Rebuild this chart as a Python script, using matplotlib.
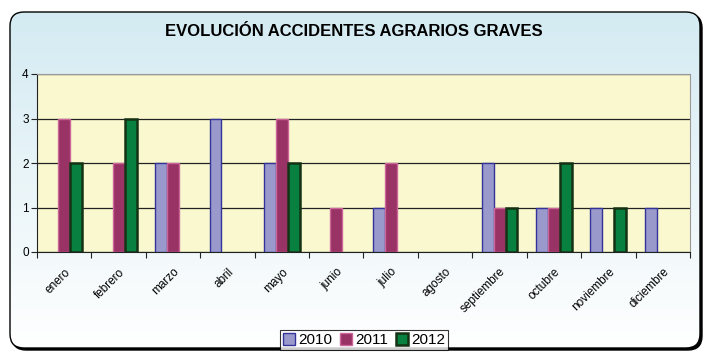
import numpy as np
import matplotlib
matplotlib.use("Agg")
import matplotlib.pyplot as plt
from matplotlib.patches import FancyBboxPatch

plt.rcParams['font.family'] = ['Liberation Sans', 'DejaVu Sans']

meses = ['enero', 'febrero', 'marzo', 'abril', 'mayo', 'junio', 'julio',
         'agosto', 'septiembre', 'octubre', 'noviembre', 'diciembre']
v2010 = [0, 0, 2, 3, 2, 0, 1, 0, 2, 1, 1, 1]
v2011 = [3, 2, 2, 0, 3, 1, 2, 0, 1, 1, 0, 0]
v2012 = [2, 3, 0, 0, 2, 0, 0, 0, 1, 2, 1, 0]
years = ['2010', '2011', '2012']

fills = ['#9999cc', '#993366', '#088040']
edges = ['#333399', '#cc6699', '#143214']
lws = [1.0, 1.0, 1.8]

W, H = 710, 352
fig = plt.figure(figsize=(W / 100, H / 100), dpi=100)

# background panel with rounded corners and gradient
bg = fig.add_axes([0, 0, 1, 1])
bg.set_xlim(0, W)
bg.set_ylim(H, 0)
bg.axis('off')
shadow = FancyBboxPatch((12, 14), 690, 336, boxstyle="round,pad=0,rounding_size=14",
                        fc='black', ec='black', lw=1)
bg.add_patch(shadow)
panel = FancyBboxPatch((10, 12), 690, 336, boxstyle="round,pad=0,rounding_size=14",
                       fc='none', ec='black', lw=1)
grad = np.linspace(0, 1, 256).reshape(-1, 1)
top = np.array([0.83, 0.92, 0.95])
bot = np.array([1.0, 1.0, 1.0])
img = top + (bot - top) * grad[..., None]
im = bg.imshow(img, extent=(10, 700, 348, 12), aspect='auto', zorder=1)
bg.add_patch(panel)
panel.set_zorder(2)
im.set_clip_path(panel)

ax = fig.add_axes([37 / W, 1 - 252 / H, (690 - 37) / W, (252 - 74) / H])
ax.set_facecolor('#faf8cf')
x = np.arange(len(meses))
bw = 0.22
for i, (vals, y) in enumerate(zip([v2010, v2011, v2012], years)):
    vals = np.array(vals)
    nz = vals > 0  # empty months get no bar outline
    ax.bar(x[nz] + (i - 1) * bw, vals[nz], bw, color=fills[i], edgecolor=edges[i],
           linewidth=lws[i], label=y, zorder=3)

ax.set_xlim(-0.5, len(meses) - 0.5)
ax.set_ylim(0, 4)
ax.set_yticks([0, 1, 2, 3, 4])
ax.yaxis.grid(True, color='#222222', lw=0.9, zorder=1)
ax.set_axisbelow(True)
ax.set_xticks(np.arange(len(meses) + 1) - 0.5)
ax.set_xticklabels([])
ax.set_xticks(x, minor=True)
ax.set_xticklabels(meses, minor=True, rotation=45, ha='right', va='top',
                   fontsize=8.5, rotation_mode='anchor')
ax.tick_params(axis='x', which='minor', length=0, pad=10)
ax.tick_params(axis='x', which='major', length=4, color='#222222')
ax.tick_params(axis='y', length=4, labelsize=8.5, color='#222222', pad=2)
for s in ['top', 'right']:
    ax.spines[s].set_color('#999999')
ax.spines['left'].set_color('#222222')
ax.spines['bottom'].set_color('#222222')

fig.text(354 / W, 1 - 32 / H, 'EVOLUCIÓN ACCIDENTES AGRARIOS GRAVES',
         ha='center', va='center', fontsize=12, fontweight='bold')

leg = ax.legend(loc='center', bbox_to_anchor=(364 / W, 1 - 340 / H),
                bbox_transform=fig.transFigure, ncol=3, fontsize=11,
                frameon=True, fancybox=False, edgecolor='black',
                handlelength=0.8, handleheight=0.8, handletextpad=0.2,
                columnspacing=0.5, borderpad=0.2, borderaxespad=0)
leg.get_frame().set_linewidth(0.8)

fig.savefig('out.png', dpi=100)
